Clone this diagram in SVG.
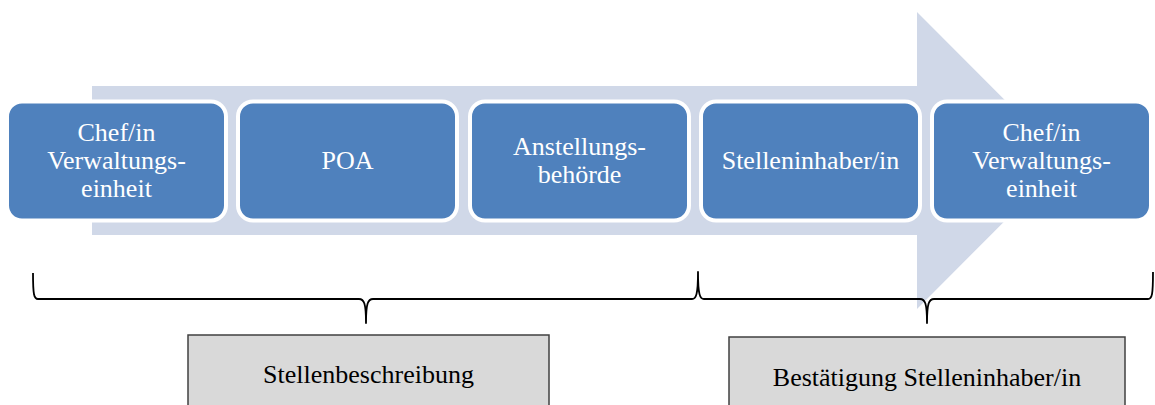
<svg xmlns="http://www.w3.org/2000/svg" width="1155" height="405" viewBox="0 0 1155 405">
<style>
.step{fill:#4F81BD;stroke:#FFFFFF;stroke-width:4}
.st{font-family:"Liberation Serif","Times New Roman",serif;font-size:26px;fill:#FFFFFF;text-anchor:middle}
.lbl{fill:#D9D9D9;stroke:#404040;stroke-width:1.5}
.lt{font-family:"Liberation Serif","Times New Roman",serif;font-size:26px;fill:#000000;text-anchor:middle}
.brace{fill:none;stroke:#000000;stroke-width:1.8;stroke-linejoin:round}
</style>
<rect width="1155" height="405" fill="#FFFFFF"/>
<g id="arrow">
<polygon points="92,86 917,86 917,12 1065,160.5 917,309 917,235 92,235" fill="#D0D8E8"/>
</g>
<g id="node1">
<rect class="step" x="7" y="101.5" width="219" height="119" rx="15"/>
<text class="st" x="116.5" y="141">Chef/in</text>
<text class="st" x="116.5" y="169">Verwaltungs-</text>
<text class="st" x="116.5" y="197">einheit</text>
</g>
<g id="node2">
<rect class="step" x="238" y="101.5" width="219" height="119" rx="15"/>
<text class="st" x="347.5" y="169">POA</text>
</g>
<g id="node3">
<rect class="step" x="470" y="101.5" width="219" height="119" rx="15"/>
<text class="st" x="579.5" y="155">Anstellungs-</text>
<text class="st" x="579.5" y="183">behörde</text>
</g>
<g id="node4">
<rect class="step" x="701" y="101.5" width="219" height="119" rx="15"/>
<text class="st" x="810.5" y="169">Stelleninhaber/in</text>
</g>
<g id="node5">
<rect class="step" x="932" y="101.5" width="219" height="119" rx="15"/>
<text class="st" x="1041.5" y="141">Chef/in</text>
<text class="st" x="1041.5" y="169">Verwaltungs-</text>
<text class="st" x="1041.5" y="197">einheit</text>
</g>
<g id="connectors">
<path class="brace" d="M33,273 C33,295 34,299 38,299 L359,299 C364,299 366,303 366,323 C366,303 368,299 373,299 L692,299 C696,299 698,295 698,272 C698,295 700,299 704,299 L920,299 C925,299 927,303 927,323 C927,303 929,299 934,299 L1148,299 C1152,299 1153,295 1153,272"/>
</g>
<g id="label1">
<rect class="lbl" x="188" y="335" width="361" height="80"/>
<text class="lt" x="368.5" y="383">Stellenbeschreibung</text>
</g>
<g id="label2">
<rect class="lbl" x="729" y="337" width="396" height="80"/>
<text class="lt" x="927" y="386">Bestätigung Stelleninhaber/in</text>
</g>
</svg>
